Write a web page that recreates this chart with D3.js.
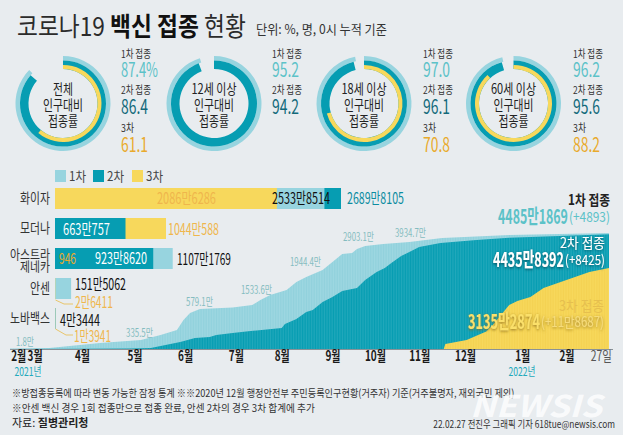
<!DOCTYPE html>
<html>
<head>
<meta charset="utf-8">
<script src="https://d3js.org/d3.v7.min.js"></script>
<style>
html, body { margin: 0; padding: 0; background: #e8ecef; }
svg { display: block; }
text { font-family: "Noto Sans CJK KR", "Noto Sans", sans-serif; }
</style>
</head>
<body>
<div id="chart"></div>
<script>
// rings: share of population in %
var ringTitles = [["전체", "인구대비", "접종률"], ["12세 이상", "인구대비", "접종률"], ["18세 이상", "인구대비", "접종률"], ["60세 이상", "인구대비", "접종률"]];
var ringDose1 = [87.4, 95.2, 97.0, 96.2];
var ringDose2 = [86.4, 94.2, 96.1, 95.6];
var ringDose3 = [61.1, null, 70.8, 88.2];

// bars: doses per vaccine, in 만
var vaccines = ["화이자", "모더나", "아스트라제네카", "안센", "노바백스"];
var barDose1 = [2533.8514, null, 1107.1769, 151.5062, 4.3444];
var barDose2 = [2689.8105, 663.0757, 923.8620, null, null];
var barDose3 = [2086.6286, 1044.0588, 0.0946, 2.6411, 1.3941];

// cumulative curves, read off the picture on its own plotted height (the original is not to linear scale)
var dates1 = ["2021-02-26","2021-03-22","2021-04-22","2021-05-17","2021-05-29","2021-06-08","2021-06-12","2021-06-16","2021-06-22","2021-07-12","2021-07-24","2021-07-29","2021-08-04","2021-08-14","2021-08-20","2021-08-26","2021-09-05","2021-09-14","2021-09-17","2021-09-23","2021-09-26","2021-10-01","2021-10-12","2021-10-28","2021-11-17","2021-12-28","2022-02-27"];
var cum1 = [20,40,230,350,540,735,1120,1390,1545,1600,1700,1895,2090,2280,2590,2785,3055,3520,3675,3710,3870,3985,4060,4140,4290,4410,4485];
var dates2 = ["2021-02-26","2021-04-10","2021-05-10","2021-05-23","2021-06-01","2021-06-10","2021-06-19","2021-06-28","2021-07-02","2021-07-12","2021-07-23","2021-08-11","2021-08-13","2021-08-20","2021-08-26","2021-08-30","2021-09-05","2021-09-11","2021-09-17","2021-09-26","2021-10-01","2021-10-08","2021-10-13","2021-10-17","2021-10-23","2021-10-28","2021-11-03","2021-11-16","2021-12-08","2021-12-28","2022-02-27"];
var cum2 = [0,5,15,40,155,270,425,465,540,620,695,810,965,1160,1430,1510,1815,2010,2245,2360,2670,2980,3130,3325,3595,3750,3945,4100,4215,4305,4435];
var dates3 = ["2021-11-18","2021-11-19","2021-12-02","2021-12-14","2021-12-18","2021-12-28","2022-01-02","2022-01-10","2022-01-18","2022-02-01","2022-02-15","2022-02-27"];
var cum3 = [0,190,350,675,930,1700,1855,2010,2360,2670,2980,3135];

var tickDates = ["2021-03-03","2021-03-13","2021-04-11","2021-05-13","2021-06-13","2021-07-14","2021-08-11","2021-09-11","2021-10-07","2021-11-03","2021-12-01","2022-01-05","2022-02-01","2022-02-22"];
var tickLabels = ["2월","3월","4월","5월","6월","7월","8월","9월","10월","11월","12월","1월","2월","27일"];

var LIGHT = "#97d4df", DARK = "#069db2", YELLOW = "#f7d85c";
var TEAL_TXT = "#5cc2c8", DEEP_TXT = "#12697a", ORANGE_TXT = "#e9aa2c";

var svg = d3.select("#chart").append("svg").attr("width", 623).attr("height", 435);
var defs = svg.append("defs");

svg.append("rect").attr("width", 623).attr("height", 435).attr("fill", "#e8ecef");

// squeeze a text to the width of the condensed original type
function squeeze(t, x, y, w) {
	var k = w / t.node().getComputedTextLength();
	t.attr("transform", "translate(" + x + "," + y + ") scale(" + k + ",1)");
}

function label(x, y, str, size, color, opts) {
	opts = opts || {};
	var t = svg.append("text")
		.attr("dy", "0.36em")
		.attr("transform", "translate(" + x + "," + y + ")")
		.attr("font-size", size)
		.attr("fill", color)
		.attr("font-weight", opts.bold ? 700 : 400)
		.attr("text-anchor", opts.anchor || "start")
		.text(str);
	if (opts.w) squeeze(t, x, y, opts.w);
	if (opts.filter) t.attr("filter", "url(#" + opts.filter + ")");
	return t;
}

function glow(id, color, dev) {
	var f = defs.append("filter").attr("id", id).attr("x", "-20%").attr("y", "-50%").attr("width", "140%").attr("height", "200%");
	f.append("feDropShadow").attr("dx", 0).attr("dy", 1).attr("stdDeviation", dev).attr("flood-color", color).attr("flood-opacity", 0.85);
}
glow("glowDark", "#04414f", 1.6);
glow("glowGold", "#8a6a18", 1.8);

function stripes(id, base, line) {
	var p = defs.append("pattern").attr("id", id).attr("patternUnits", "userSpaceOnUse").attr("width", 1.637).attr("height", 10);
	p.append("rect").attr("width", 1.637).attr("height", 10).attr("fill", base);
	p.append("rect").attr("width", 0.6).attr("height", 10).attr("fill", line);
}
stripes("stripeLight", "#9ed7e1", "#8dcfdb");
stripes("stripeDark", "#069db2", "#2aacbf");
stripes("stripeYellow", "#f7d85c", "#f3d04e");

// title
var title = svg.append("text").attr("font-size", 26).attr("fill", "#2b2b2b");
title.append("tspan").text("코로나19 ");
title.append("tspan").attr("font-weight", 700).attr("fill", "#111").text("백신 접종 ");
title.append("tspan").text("현황");
squeeze(title, 17, 36, 229);
label(256, 29, "단위: %, 명, 0시 누적 기준", 13, "#333", { w: 131 });

// rings
var ringAngle = d3.scaleLinear().domain([0, 100]).range([0, 2 * Math.PI]);
var ringX = [63, 214, 364, 513.5];
var statX = [121, 272, 423, 573];
var arc = d3.arc();

ringTitles.forEach(function (lines, i) {
	var g = svg.append("g").attr("transform", "translate(" + ringX[i] + ",103.5)");
	var rings = [
		{ v: ringDose1[i], r0: 43, r1: 47.5, c: LIGHT },
		{ v: ringDose2[i], r0: 34.5, r1: 43, c: DARK },
		{ v: ringDose3[i], r0: 34.5, r1: 38.5, c: YELLOW }
	].filter(function (d) { return d.v != null; });
	g.selectAll("path").data(rings).enter().append("path")
		.attr("d", function (d) {
			return arc({ innerRadius: d.r0, outerRadius: d.r1, startAngle: 0, endAngle: ringAngle(d.v) });
		})
		.attr("fill", function (d) { return d.c; });
	lines.forEach(function (s, j) {
		label(ringX[i], 89 + j * 16, s, 14, "#222", { anchor: "middle", w: j === 0 && i > 0 ? 45 : (j === 0 ? 20 : (j === 1 ? 40 : 30)) });
	});
	var sx = statX[i];
	label(sx, 54, "1차 접종", 11, "#333", { w: 30 });
	label(sx, 70, ringDose1[i].toFixed(1) + (i === 0 ? "%" : ""), 20, TEAL_TXT, { w: i === 0 ? 37 : 27 });
	label(sx, 90, "2차 접종", 11, "#333", { w: 30 });
	label(sx, 107, ringDose2[i].toFixed(1), 20, DEEP_TXT, { w: 27 });
	if (ringDose3[i] != null) {
		label(sx, 128, "3차", 11, "#333", { w: 13 });
		label(sx, 145, ringDose3[i].toFixed(1), 20, ORANGE_TXT, { w: 27 });
	}
});

// legend
[["1차", LIGHT, 55], ["2차", DARK, 93], ["3차", YELLOW, 132]].forEach(function (d) {
	svg.append("rect").attr("x", d[2]).attr("y", 170).attr("width", 11).attr("height", 12).attr("fill", d[1]);
	label(d[2] + 14, 176, d[0], 13, "#444", { w: 17 });
});

// bars, longest drawn first because the doses overlap
var xBar = d3.scaleLinear().domain([0, 2689.8105]).range([55, 341]);
var yBar = d3.scaleBand().domain(vaccines).range([188, 329]).paddingInner(0.3);
var barRows = [];
vaccines.forEach(function (v, i) {
	[[barDose1[i], LIGHT], [barDose2[i], DARK], [barDose3[i], YELLOW]].forEach(function (b) {
		if (b[0] != null) barRows.push({ v: v, val: b[0], c: b[1] });
	});
});
barRows.sort(function (a, b) { return b.val - a.val; });
svg.selectAll("rect.bar").data(barRows).enter().append("rect")
	.attr("class", "bar")
	.attr("x", xBar(0))
	.attr("y", function (d) { return yBar(d.v); })
	.attr("width", function (d) { return xBar(d.val) - xBar(0); })
	.attr("height", yBar.bandwidth())
	.attr("fill", function (d) { return d.c; });

svg.append("line").attr("x1", 55.5).attr("x2", 55.5).attr("y1", 308).attr("y2", 329).attr("stroke", "#9cc9b8").attr("stroke-width", 1);

label(50, 198, "화이자", 14, "#333", { anchor: "end", w: 30 });
label(50, 228, "모더나", 14, "#333", { anchor: "end", w: 30 });
label(50, 254, "아스트라", 13, "#333", { anchor: "end", w: 40 });
label(50, 266, "제네카", 13, "#333", { anchor: "end", w: 30 });
label(50, 288, "안센", 14, "#333", { anchor: "end", w: 20 });
label(50, 318, "노바백스", 14, "#333", { anchor: "end", w: 40 });

label(157, 198, "2086만6286", 15.5, "#efb64c", { w: 59 });
label(272, 198, "2533만8514", 15.5, "#111", { w: 58 });
label(347, 198, "2689만8105", 15.5, "#0c8ca1", { w: 57 });
label(63, 229, "663만757", 15.5, "#fff", { w: 47 });
label(168, 229, "1044만588", 15.5, "#efb64c", { w: 51 });
label(59, 258, "946", 15.5, "#e9aa2c", { w: 17 });
label(95, 258, "923만8620", 15.5, "#fff", { w: 52 });
label(177, 259, "1107만1769", 15.5, "#111", { w: 54 });
label(75, 284, "151만5062", 15.5, "#111", { w: 51 });
label(75, 302, "2만6411", 15.5, "#efb64c", { w: 38 });
label(60, 320, "4만3444", 15.5, "#111", { w: 40 });
label(74, 336, "1만3941", 15.5, "#efb64c", { w: 37 });

// cumulative areas
var parse = d3.timeParse("%Y-%m-%d");
var x = d3.scaleTime().domain([parse("2021-02-26"), parse("2022-02-27")]).range([10, 609]);
var y = d3.scaleLinear().domain([0, 4485]).range([349, 233]);
var area = d3.area()
	.x(function (d) { return x(d.date); })
	.y0(y(0))
	.y1(function (d) { return y(d.val); })
	.curve(d3.curveLinear);

function series(dates, vals) {
	return dates.map(function (s, i) { return { date: parse(s), val: vals[i] }; });
}
[[dates1, cum1, "stripeLight"], [dates2, cum2, "stripeDark"], [dates3, cum3, "stripeYellow"]].forEach(function (s) {
	svg.append("path").datum(series(s[0], s[1])).attr("d", area).attr("fill", "url(#" + s[2] + ")");
});

// leader lines under the small dose labels
svg.append("path").attr("d", "M55.5,300 L64,304 L73,304").attr("fill", "none").attr("stroke", "#e8c56a").attr("stroke-width", 1);
svg.append("path").attr("d", "M55.5,329 L66,335 L73,335").attr("fill", "none").attr("stroke", "#e8c56a").attr("stroke-width", 1);

// month end markers on the curve
var MARK = "#84bcc0";
label(16, 342, "1.8만", 11.5, MARK, { w: 18 });
label(126, 333, "335.5만", 11.5, MARK, { w: 27 });
label(186, 302, "579.1만", 11.5, MARK, { w: 27 });
label(241, 290, "1533.6만", 11.5, MARK, { w: 31 });
label(290, 262, "1944.4만", 11.5, MARK, { w: 31 });
label(343, 237, "2903.1만", 11.5, MARK, { w: 31 });
label(395, 233, "3934.7만", 11.5, MARK, { w: 31 });

// axis
svg.append("line").attr("x1", 10).attr("x2", 613).attr("y1", 349.5).attr("y2", 349.5).attr("stroke", "#8a9297");
var axis = d3.axisBottom(x)
	.tickValues(tickDates.map(parse))
	.tickSize(0)
	.tickPadding(2)
	.tickFormat(function (d, i) { return tickLabels[i]; });
var axisG = svg.append("g").attr("transform", "translate(0,349)").call(axis);
axisG.select(".domain").remove();
axisG.selectAll("text")
	.attr("font-family", "Noto Sans CJK KR")
	.attr("font-size", 14)
	.attr("fill", function (d, i) { return i === tickLabels.length - 1 ? "#555" : "#1a1a1a"; })
	.attr("font-weight", function (d, i) { return i === tickLabels.length - 1 ? 400 : 700; })
	.each(function (d, i) {
		var w = tickLabels[i].length > 2 ? 21 : 15;
		d3.select(this).attr("transform", "scale(" + (w / this.getComputedTextLength()) + ",1)");
	});
label(28, 372, "2021년", 12, "#22a9bb", { anchor: "middle", w: 27 });
label(522, 372, "2022년", 12, "#22a9bb", { anchor: "middle", w: 27 });

// cumulative totals
label(610, 200, "1차 접종", 14, "#222", { anchor: "end", bold: true, w: 42 });
label(498, 217, "4485만1869", 20, TEAL_TXT, { bold: true, w: 70 });
label(569, 217, "(+4893)", 14, TEAL_TXT, { w: 41 });
label(605, 243, "2차 접종", 14, "#fff", { anchor: "end", w: 45, filter: "glowDark" });
label(493, 260, "4435만8392", 20, "#fff", { bold: true, w: 71, filter: "glowDark" });
label(565, 260, "(+8425)", 14, "#fff", { w: 40, filter: "glowDark" });
label(604, 306, "3차 접종", 14, "#e6bf4e", { anchor: "end", w: 45 });
label(468, 322, "3135만2874", 20, "#fbe06a", { bold: true, w: 72, filter: "glowGold" });
label(541, 322, "(+11만8687)", 14, "#f6dc7c", { w: 63, filter: "glowGold" });

// footnotes
label(12, 393, "※방접종등록에 따라 변동 가능한 잠정 통계  ※※2020년 12월 행정안전부 주민등록인구현황(거주자) 기준(거주불명자, 재외국민 제외)", 10.5, "#333", { w: 502 });
label(12, 408, "※안센 백신 경우 1회 접종만으로 접종 완료, 안센 2차의 경우 3차 합계에 추가", 10.5, "#333", { w: 303 });
var src = svg.append("text").attr("x", 12).attr("y", 423).attr("dy", "0.36em").attr("font-size", 11).attr("fill", "#222");
src.append("tspan").text("자료: ");
src.append("tspan").attr("font-weight", 700).text("질병관리청");

label(615, 424, "22.02.27 전진우 그래픽 기자 618tue@newsis.com", 10, "#333", { anchor: "end", w: 182 });

// watermark sits over the notes
svg.append("text").attr("x", 470).attr("y", 417).attr("font-family", "Liberation Sans").attr("font-size", 30)
	.attr("font-weight", 700).attr("font-style", "italic").attr("fill", "#fff").attr("fill-opacity", 0.8)
	.attr("textLength", 132).attr("lengthAdjust", "spacingAndGlyphs").text("NEWSIS");
</script>
</body>
</html>
